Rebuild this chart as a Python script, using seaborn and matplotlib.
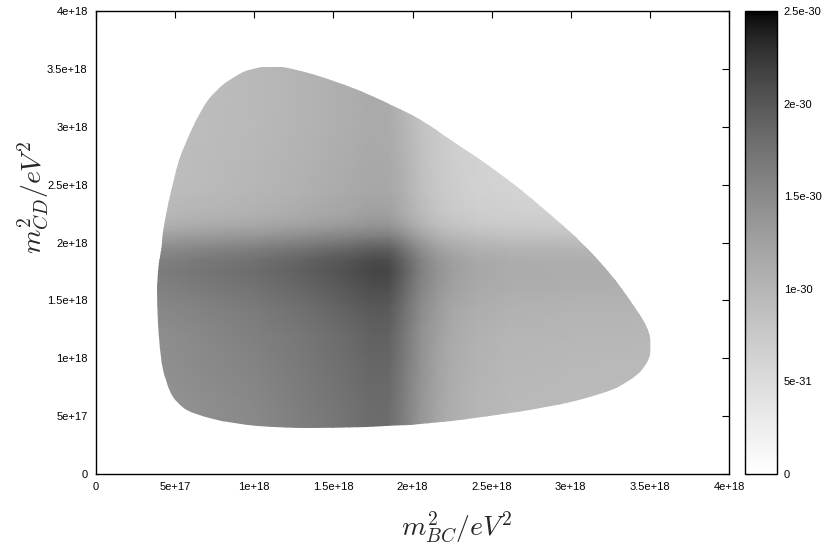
import matplotlib
matplotlib.use("Agg")
import matplotlib.pyplot as plt
import numpy as np
import seaborn as sns
from matplotlib.colors import ListedColormap
from matplotlib.patches import PathPatch
from matplotlib.path import Path
from matplotlib.ticker import FormatStrFormatter, MultipleLocator

sns.set_theme(style="white")
plt.rcParams["font.family"] = ["Liberation Sans", "DejaVu Sans"]
plt.rcParams["mathtext.fontset"] = "cm"

SCALE = 1e18  # eV^2

# intensity along m2_BC (units of 1e-30) through the band crossing
bc_nodes = [0.30, 0.60, 1.00, 1.30, 1.60, 1.75, 1.85, 1.95, 2.05, 2.15, 2.25, 2.40, 2.60, 3.00, 3.60]
bc_profile = [1.62, 1.70, 1.80, 1.92, 2.06, 2.14, 2.13, 1.90, 1.62, 1.42, 1.28, 1.18, 1.13, 1.11, 1.10]

# relative intensity along m2_CD
cd_nodes = [0.30, 0.60, 0.90, 1.20, 1.45, 1.60, 1.75, 1.85, 1.95, 2.05, 2.15, 2.25, 2.45, 3.00, 3.60]
cd_profile = [0.84, 0.85, 0.87, 0.89, 0.93, 0.97, 1.00, 0.98, 0.90, 0.77, 0.65, 0.59, 0.55, 0.53, 0.53]

# Dalitz boundary (units of 1e18 eV^2)
edge_bc = [0.385, 0.39, 0.41, 0.42, 0.49, 0.56, 0.66, 0.76, 0.87, 0.99, 1.12, 1.23, 1.50,
           1.81, 1.92, 2.05, 2.24, 2.55, 2.87, 3.10, 3.26, 3.39, 3.49, 3.51, 3.49, 3.39,
           3.18, 2.87, 2.45, 2.05, 1.92, 1.50, 1.18, 0.87, 0.61, 0.51, 0.46, 0.42, 0.40]
edge_cd = [1.48, 1.76, 1.91, 2.08, 2.57, 2.86, 3.14, 3.32, 3.43, 3.51, 3.52, 3.51, 3.40,
           3.23, 3.15, 3.07, 2.89, 2.60, 2.25, 1.96, 1.72, 1.48, 1.27, 1.10, 0.96, 0.81,
           0.68, 0.58, 0.49, 0.43, 0.42, 0.40, 0.40, 0.43, 0.52, 0.61, 0.72, 0.90, 1.13]

# gnuplot-like negative gray palette (gamma 1.5)
t = np.linspace(0, 1, 256)
g = (1 - t) ** (2 / 3)
cmap = ListedColormap(np.column_stack([g, g, g]))

fig = plt.figure(figsize=(8.27, 5.55), dpi=100)
ax = fig.add_axes([0.1161, 0.1459, 0.7654, 0.8342])
cax = fig.add_axes([0.9008, 0.1459, 0.0387, 0.8342])

X = np.array(bc_nodes) * SCALE
Y = np.array(cd_nodes) * SCALE
C = np.outer(cd_profile, bc_profile) * 1e-30

mesh = ax.pcolormesh(X, Y, C, shading="gouraud", cmap=cmap, vmin=0, vmax=2.5e-30)

# smooth closed outline: read points as quadratic Bezier controls
pts = np.column_stack([edge_bc, edge_cd]) * SCALE
nxt = np.roll(pts, -1, axis=0)
mids = (pts + nxt) / 2
verts = [mids[-1]]
codes = [Path.MOVETO]
for p, m in zip(pts, mids):
    verts += [p, m]
    codes += [Path.CURVE3, Path.CURVE3]
region = PathPatch(Path(verts, codes), transform=ax.transData)
mesh.set_clip_path(region)

ax.set_xlim(0, 4e18)
ax.set_ylim(0, 4e18)
ax.xaxis.set_major_locator(MultipleLocator(5e17))
ax.yaxis.set_major_locator(MultipleLocator(5e17))
ax.xaxis.set_major_formatter(FormatStrFormatter("%g"))
ax.yaxis.set_major_formatter(FormatStrFormatter("%g"))
ax.tick_params(direction="in", length=5, width=0.8, labelsize=8, pad=6,
               top=True, right=True, colors="black")
for s in ax.spines.values():
    s.set_color("black"); s.set_linewidth(1.0)

cb = fig.colorbar(mesh, cax=cax)
cb.set_ticks([0, 5e-31, 1e-30, 1.5e-30, 2e-30, 2.5e-30])
cb.ax.yaxis.set_major_formatter(FormatStrFormatter("%g"))
cax.tick_params(direction="in", length=4, width=0.8, labelsize=8, pad=5,
                left=True, right=True, colors="black")
cb.outline.set_edgecolor("black"); cb.outline.set_linewidth(1.0)

fig.text(0.553, 0.05, r"$m^2_{BC}/eV^2$", fontsize=20, ha="center", va="center")
fig.text(0.04, 0.645, r"$m^2_{CD}/eV^2$", fontsize=20, ha="center", va="center",
         rotation=90)

fig.savefig("out.png", dpi=100)
